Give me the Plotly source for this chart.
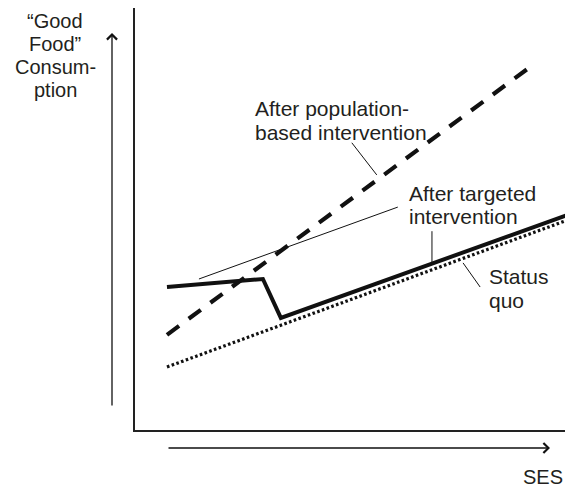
import plotly.graph_objects as go

# Conceptual data (x = SES, y = "Good Food" consumption), arbitrary 0-100 units
ses_dashed = [7.3, 91.5]
pop_intervention = [22.5, 86.8]

ses_dotted = [7.3, 100]
status_quo = [14.9, 50.1]

ses_solid = [7.3, 29.2, 33.3, 100]
targeted = [33.8, 35.7, 26.5, 51.3]

# leader lines linking labels to curves
leaders = [
    ([14.6, 60.0], [35.7, 52.7]),   # from targeted bump toward label
    ([49.5, 55.2], [67.9, 60.3]),   # population label -> dashed line
    ([67.8, 67.8], [47.0, 39.5]),   # targeted label -> solid line
    ([74.9, 78.8], [39.5, 33.8]),   # status quo label -> dotted line
]

labels = [
    ("After population-", 26.9, 75.9),
    ("based intervention", 26.9, 70.4),
    ("After targeted", 62.1, 56.0),
    ("intervention", 62.1, 50.4),
    ("Status", 80.4, 36.2),
    ("quo", 80.4, 30.7),
]

ylabel_lines = ["\u201cGood", "Food\u201d", "Consum-", "ption"]

FONT = "Liberation Sans, Arial, sans-serif"
TXT = "#231f20"

# page has an 8px body margin; plot area spans page x 135..573, y 8..430
OFF = 8
PL, PR, PT, PB = 135, 573, 8, 430


def px(xp):
    return (xp - PL) / (PR - PL)


def py(yp):
    return (PB - yp) / (PB - PT)


fig = go.Figure()
fig.add_trace(go.Scatter(x=ses_dashed, y=pop_intervention, mode="lines",
                         line=dict(color="#111", width=4.2, dash="15px,12px")))
fig.add_trace(go.Scatter(x=ses_dotted, y=status_quo, mode="lines",
                         line=dict(color="#111", width=3.2, dash="2.6px,2.4px")))
fig.add_trace(go.Scatter(x=ses_solid, y=targeted, mode="lines",
                         line=dict(color="#111", width=4)))
for lx, ly in leaders:
    fig.add_trace(go.Scatter(x=lx, y=ly, mode="lines",
                             line=dict(color="#111", width=1)))

annotations = []
for t, x, y in labels:
    annotations.append(dict(text=t, x=x, y=y, xref="x", yref="y",
                            xanchor="left", yanchor="middle", showarrow=False,
                            font=dict(family=FONT, size=21, color=TXT)))
for i, t in enumerate(ylabel_lines):
    yy = 21 + i * 23
    annotations.append(dict(text=t, x=px(55), y=py(yy),
                            xref="paper", yref="paper", xanchor="center",
                            yanchor="middle", showarrow=False,
                            font=dict(family=FONT, size=20, color=TXT)))
annotations.append(dict(text="SES", x=px(543), y=py(477),
                        xref="paper", yref="paper", xanchor="center",
                        yanchor="middle", showarrow=False,
                        font=dict(family=FONT, size=20, color=TXT)))
# axis direction arrows
annotations.append(dict(text="", x=px(112), y=py(33),
                        xref="paper", yref="paper", showarrow=True,
                        ax=0, ay=374, arrowhead=4, arrowsize=1.5,
                        arrowwidth=1.3, arrowcolor="#111"))
annotations.append(dict(text="", x=px(550), y=py(448),
                        xref="paper", yref="paper", showarrow=True,
                        ax=-383, ay=0, arrowhead=4, arrowsize=1.5,
                        arrowwidth=1.3, arrowcolor="#111"))

fig.update_layout(
    width=573 - OFF, height=487 - OFF,
    margin=dict(l=PL - OFF, r=0, t=PT - OFF, b=487 - PB),
    paper_bgcolor="white", plot_bgcolor="white",
    showlegend=False,
    annotations=annotations,
    xaxis=dict(range=[0, 100], showgrid=False, zeroline=False,
               showticklabels=False, ticks="", showline=True,
               linecolor="#222", linewidth=1.5, fixedrange=True),
    yaxis=dict(range=[0, (PB - PT) / 423 * 100], showgrid=False, zeroline=False,
               showticklabels=False, ticks="", showline=True,
               linecolor="#222", linewidth=1.5, fixedrange=True),
)

fig.write_html("out.html", config={"displayModeBar": False})
